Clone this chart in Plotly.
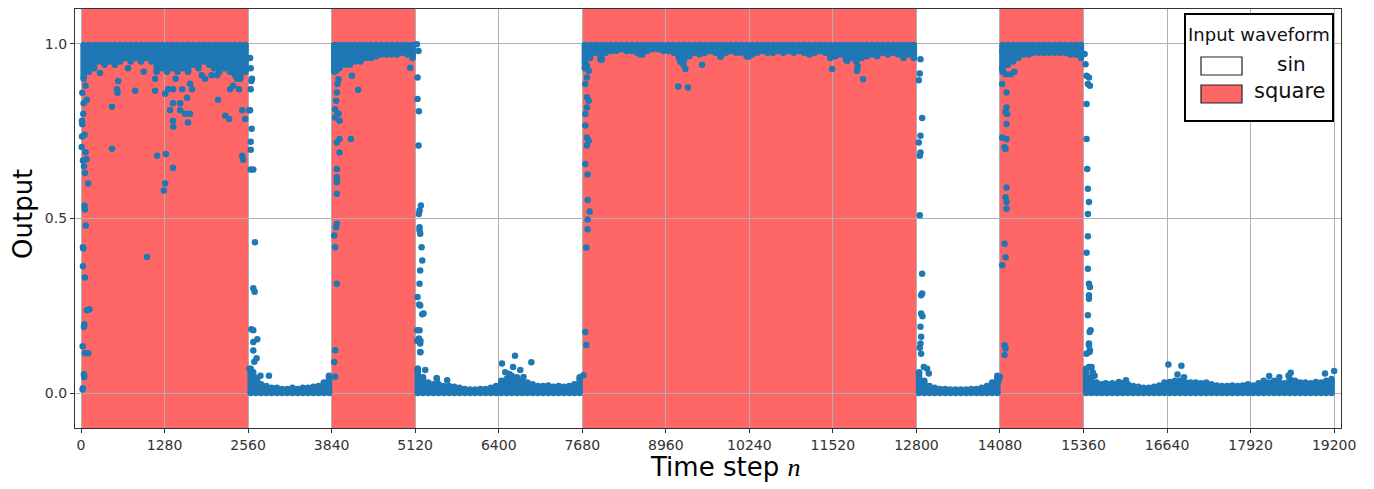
import plotly.graph_objects as go

# ---------------- data ----------------
SEG_BOUNDS = [0, 2560, 3840, 5120, 7680, 12800, 14080, 15360, 19200]
SEG_KIND = ["square", "sin", "square", "sin", "square", "sin", "square", "sin"]
X_TICKS = [0, 1280, 2560, 3840, 5120, 6400, 7680, 8960, 10240, 11520, 12800,
           14080, 15360, 16640, 17920, 19200]
Y_TICKS = [0.0, 0.5, 1.0]
Y_TICK_TEXT = ["0.0", "0.5", "1.0"]

BAND_STEP = 80          # sampling step (time steps) of the dense band edge
SQUARE_TOP = 0.997      # top of the dense cloud in "square" spans
SIN_BOTTOM = 0.0        # bottom of the dense cloud in "sin" spans

# dense band edge: lower edge for square spans, upper edge for sin spans
band_seg1 = [.90, .92, .93, .95, .94, .95, .94, .95, .96, .95,
             .96, .95, .96, .95, .92, .93, .92, .93, .92, .93,
             .92, .94, .93, .95, .94, .93, .92, .93, .92, .91,
             .90, .92]
band_seg2 = [.07, .04, .025, .02, .015, .015, .012, .012, .015, .012,
             .015, .015, .018, .02, .03, .05]
band_seg3 = [.92, .93, .94, .94, .95, .95, .96, .96, .965, .97,
             .97, .97, .97, .975, .97, .96]
band_seg4 = [.07, .045, .03, .025, .025, .02, .02, .018, .015, .012,
             .01, .01, .012, .012, .015, .02, .035, .04, .05, .045,
             .035, .03, .025, .02, .02, .022, .018, .02, .018, .02,
             .025, .045]
band_seg5 = [.93, .96, .975, .955, .975, .98, .98, .985, .98, .98,
             .975, .97, .98, .985, .985, .98, .98, .975, .96, .955,
             .965, .975, .97, .975, .98, .975, .965, .975, .98, .975,
             .975, .965, .97, .975, .98, .975, .975, .98, .975, .98,
             .975, .98, .975, .97, .975, .98, .975, .96, .965, .97,
             .955, .96, .95, .96, .965, .97, .965, .975, .97, .975,
             .97, .965, .97, .96]
band_seg6 = [.06, .035, .02, .015, .012, .012, .01, .01, .01, .01,
             .012, .012, .015, .02, .03, .05]
band_seg7 = [.92, .94, .95, .96, .97, .97, .975, .975, .975, .975,
             .975, .975, .975, .97, .97, .96]
band_seg8 = [.07, .045, .03, .025, .025, .028, .025, .028, .025, .02,
             .018, .015, .015, .018, .022, .03, .032, .035, .035, .03,
             .03, .03, .028, .03, .025, .022, .02, .02, .022, .02,
             .022, .025, .022, .028, .035, .03, .035, .03, .028, .04,
             .035, .03, .03, .028, .032, .03, .035, .04]
BANDS = [band_seg1, band_seg2, band_seg3, band_seg4,
         band_seg5, band_seg6, band_seg7, band_seg8]

# isolated points (time step, output)
out_n = [
    # start of span 1
    10, 20, 15, 30, 60, 110, 55, 60, 75, 30, 35, 30, 60, 90, 130, 50, 45, 25,
    60, 110, 45, 50, 30, 25, 20, 40, 35, 15, 55, 70, 85, 45, 70, 90,
    # inside span 1
    475, 475, 550, 560, 570, 830, 1135, 1135, 1165, 1300, 1290, 1270, 1410,
    1290, 1335, 1410, 1410, 1365, 1520, 1520, 1550, 1625, 1595, 1670, 1640,
    1410, 1415, 1700, 1670, 2085, 2100, 2210, 2270, 2285, 2390, 2470, 2515,
    2470, 2485, 1012, 290, 720, 960, 1900, 2000, 2330, 2420, 1850, 1450,
    # end of span 1
    2590, 2600, 2610, 2615, 2600, 2600, 2600, 2640, 2575, 2665, 2640, 2660,
    2610, 2640, 2700, 2640, 2640, 2690, 2655, 2640, 2750, 2880, 2590, 2600,
    2620, 2580, 2620, 2660, 2700,
    # start of span 3
    3879, 3894, 3909, 3945, 3930, 3920, 3909, 3894, 3945, 3930, 3894, 3960,
    3960, 3920, 3960, 3920, 3920, 3920, 3920, 3920, 3909, 3879, 3894, 3920,
    3894, 3879, 3894, 4150, 4247, 4134, 5044,
    # end of span 3
    5146, 5171, 5156, 5156, 5177, 5171, 5207, 5187, 5177, 5187, 5187, 5197,
    5218, 5228, 5197, 5187, 5156, 5197, 5248, 5187, 5177, 5197, 5197, 5156,
    5182, 5228, 5151, 5150, 5200, 5200, 5274, 5450, 5610, 5453,
    # span 4 bump and end
    6450, 6650, 6900, 6620, 6730, 6780, 6500, 6560, 7727, 7742, 7697,
    # start of span 5
    7727, 7752, 7778, 7752, 7727, 7752, 7778, 7752, 7727, 7727, 7752, 7778,
    7752, 7727, 7762, 7762, 7793, 7762, 7762, 7742,
    # inside span 5
    7983, 9183, 9260, 9150, 9300, 9516, 9796, 10225, 11508, 11738, 11890,
    11983, 12602, 8570, 9230, 11900,
    # end of span 5
    12862, 12851, 12836, 12887, 12862, 12836, 12862, 12851, 12851, 12887,
    12887, 12872, 12872, 12892, 12862, 12872, 12862, 12851, 12872, 12913,
    12964, 12990, 14080, 14060,
    # start of span 7
    14114, 14140, 14114, 14166, 14114, 14181, 14181, 14166, 14191, 14181,
    14114, 14181, 14150, 14166, 14181, 14166, 14181, 14181, 14150, 14166,
    14114, 14150, 14166, 14150, 14242, 14300, 14396,
    # end of span 7
    15376, 15391, 15407, 15443, 15427, 15458, 15407, 15407, 15417, 15427,
    15443, 15427, 15427, 15407, 15427, 15443, 15458, 15443, 15443, 15427,
    15468, 15443, 15458, 15407, 15443,
    # span 8
    15453, 15443, 15453, 15483, 15500, 15530, 16660, 16860, 16800, 16900,
    16010, 15700, 15900, 18205, 18360, 18535, 18500, 19060, 19200,
]
out_v = [
    .705, .77, .735, .666, .63, .60, .537, .526, .48, .418, .414, .363, .331,
    .237, .24, .197, .19, .134, .114, .114, .054, .046, .014, .01, .86, .83,
    .80, .78, .74, .69, .67, .65, .88, .84,
    .70, .82, .87, .86, .894, .866, .866, .90, .68, .685, .60, .58, .645,
    .857, .87, .87, .83, .81, .83, .81, .87, .846, .80, .80, .775,
    .78, .763, .87, .886, .91, .84, .794, .785, .87, .90, .81, .785,
    .68, .668, .39, .917, .93, .92, .90, .91, .88, .87, .91, .90,
    .81, .87, .894, .757, .72, .697, .64, .64, .81, .432, .30, .29,
    .183, .18, .154, .146, .122, .10, .09, .06, .05, .05, .96, .93,
    .90, .07, .05, .045, .035,
    .971, .942, .923, .899, .885, .861, .837, .813, .80, .80, .789, .78,
    .728, .718, .689, .642, .618, .604, .571, .485, .475, .451, .418, .313,
    .123, .089, .047, .909, .869, .728, .932,
    .999, .98, .904, .842, .807, .709, .537, .523, .513, .475, .466, .456,
    .418, .38, .351, .313, .275, .251, .228, .18, .156, .142, .118, .07,
    .254, .226, .18, .15, .15, .117, .066, .043, .037, .04,
    .085, .107, .088, .075, .066, .046, .06, .055, .175, .138, .051,
    .951, .937, .923, .904, .885, .847, .837, .818, .799, .766, .732, .723,
    .709, .656, .626, .553, .52, .497, .469, .417,
    .956, .949, .928, .878, .875, .94, .963, .963, .928, .951, .923,
    .899, .96, .97, .94, .935,
    .956, .915, .896, .788, .737, .718, .689, .68, .509, .342,
    .285, .28, .228, .22, .19, .161, .142, .13, .113, .075,
    .07, .056, .047, .035,
    .98, .961, .932, .913, .885, .861, .818, .804, .799, .771,
    .732, .728, .704, .699, .589, .561, .547, .528, .428, .389,
    .366, .137, .128, .109, .913, .92, .971,
    .971, .942, .909, .904, .885, .88, .828, .728, .642, .585,
    .547, .513, .449, .402, .356, .313, .304, .28, .27, .223,
    .18, .142, .123, .113, .075,
    .175, .137, .118, .075, .06, .05, .082, .078, .053, .045,
    .037, .028, .032, .049, .045, .058, .05, .056, .063,
]

# ---------------- figure ----------------
BLUE = "#1f77b4"
RED = "#FF6666"
MS = 6.5

W, H = 1374, 489
PAGE_OFF = 8                      # default body margin of the html page
PLOT_L, PLOT_R, PLOT_T, PLOT_B = 75, 1341, 9, 428   # plot area in screen px
L = PLOT_L - PAGE_OFF
T = PLOT_T - PAGE_OFF
R = W + PAGE_OFF - PLOT_R
B = H + PAGE_OFF - PLOT_B
PW, PH = PLOT_R - PLOT_L, PLOT_B - PLOT_T


def px_x(px):
    return (px - PLOT_L) / PW


def px_y(py):
    return (PLOT_B - py) / PH


fig = go.Figure()

for (a, b), kind, band in zip(zip(SEG_BOUNDS[:-1], SEG_BOUNDS[1:]), SEG_KIND, BANDS):
    xs = [a + BAND_STEP // 2 + BAND_STEP * i for i in range(len(band))]
    if kind == "square":
        up = [SQUARE_TOP - v for v in band]
        fig.add_trace(go.Scatter(
            x=xs, y=band, mode="markers",
            marker=dict(color=BLUE, size=MS, line=dict(width=0)),
            error_y=dict(type="data", symmetric=False, array=up,
                         arrayminus=[0] * len(band), color=BLUE,
                         thickness=MS, width=0),
            showlegend=False, hoverinfo="skip"))
        fig.add_trace(go.Scatter(
            x=xs, y=[SQUARE_TOP] * len(band), mode="markers",
            marker=dict(color=BLUE, size=MS, line=dict(width=0)),
            showlegend=False, hoverinfo="skip"))
    else:
        down = [v - SIN_BOTTOM for v in band]
        fig.add_trace(go.Scatter(
            x=xs, y=band, mode="markers",
            marker=dict(color=BLUE, size=MS, line=dict(width=0)),
            error_y=dict(type="data", symmetric=False, array=[0] * len(band),
                         arrayminus=down, color=BLUE, thickness=MS, width=0),
            showlegend=False, hoverinfo="skip"))
        fig.add_trace(go.Scatter(
            x=xs, y=[SIN_BOTTOM] * len(band), mode="markers",
            marker=dict(color=BLUE, size=MS, line=dict(width=0)),
            showlegend=False, hoverinfo="skip"))

fig.add_trace(go.Scatter(
    x=out_n, y=out_v, mode="markers",
    marker=dict(color=BLUE, size=MS, line=dict(width=0)),
    showlegend=False, hoverinfo="skip"))

# shaded square-wave spans
shapes = []
for (a, b), kind in zip(zip(SEG_BOUNDS[:-1], SEG_BOUNDS[1:]), SEG_KIND):
    if kind == "square":
        shapes.append(dict(type="rect", xref="x", yref="paper", x0=a, x1=b,
                           y0=0, y1=1, fillcolor=RED, line=dict(width=0),
                           layer="below"))

# hand-drawn legend box
shapes.append(dict(type="rect", xref="paper", yref="paper",
                   x0=px_x(1185), x1=px_x(1333), y0=px_y(121), y1=px_y(14),
                   fillcolor="white", line=dict(color="black", width=2),
                   layer="above"))
shapes.append(dict(type="rect", xref="paper", yref="paper",
                   x0=px_x(1201), x1=px_x(1242), y0=px_y(75), y1=px_y(57),
                   fillcolor="white", line=dict(color="#222", width=1.2),
                   layer="above"))
shapes.append(dict(type="rect", xref="paper", yref="paper",
                   x0=px_x(1201), x1=px_x(1242), y0=px_y(103), y1=px_y(85),
                   fillcolor=RED, line=dict(color="#222", width=1.2),
                   layer="above"))

FONT = "DejaVu Sans"
annotations = [
    dict(text="Input waveform", xref="paper", yref="paper", x=px_x(1259),
         y=px_y(35), showarrow=False, xanchor="center", yanchor="middle",
         font=dict(family=FONT, size=18, color="#111")),
    dict(text="sin", xref="paper", yref="paper", x=px_x(1291),
         y=px_y(64), showarrow=False, xanchor="center", yanchor="middle",
         font=dict(family=FONT, size=20, color="#111")),
    dict(text="square", xref="paper", yref="paper", x=px_x(1290),
         y=px_y(91), showarrow=False, xanchor="center", yanchor="middle",
         font=dict(family=FONT, size=21, color="#111")),
    dict(text="Time step <i><span style=\"font-family:'Liberation Serif'\">n</span></i>",
         xref="paper", yref="paper", x=px_x(725), y=px_y(467),
         showarrow=False, xanchor="center", yanchor="middle",
         font=dict(family=FONT, size=26, color="black")),
    dict(text="Output", xref="paper", yref="paper", x=px_x(23), y=px_y(214),
         showarrow=False, xanchor="center", yanchor="middle", textangle=-90,
         borderpad=0,
         font=dict(family=FONT, size=26, color="black")),
]

fig.update_layout(
    width=W, height=H,
    margin=dict(l=L, r=R, t=T, b=B, pad=0, autoexpand=False),
    paper_bgcolor="white", plot_bgcolor="white",
    shapes=shapes, annotations=annotations,
    showlegend=False,
    font=dict(family=FONT, size=14, color="#333"),
    xaxis=dict(range=[-92, 19305], tickmode="array", tickvals=X_TICKS,
               ticktext=[str(v) for v in X_TICKS],
               showgrid=True, gridcolor="#b0b0b0", gridwidth=1,
               zeroline=False, showline=True, linecolor="#333", linewidth=1.2,
               mirror=True, ticks="outside", ticklen=4, tickcolor="#333",
               tickfont=dict(family=FONT, size=14, color="#333")),
    yaxis=dict(range=[-0.1, 1.1], tickmode="array", tickvals=Y_TICKS,
               ticktext=Y_TICK_TEXT,
               showgrid=True, gridcolor="#b0b0b0", gridwidth=1,
               zeroline=False, showline=True, linecolor="#333", linewidth=1.2,
               mirror=True, ticks="outside", ticklen=4, tickcolor="#333",
               tickfont=dict(family=FONT, size=14, color="#333")),
)

fig.write_html("out.html")
